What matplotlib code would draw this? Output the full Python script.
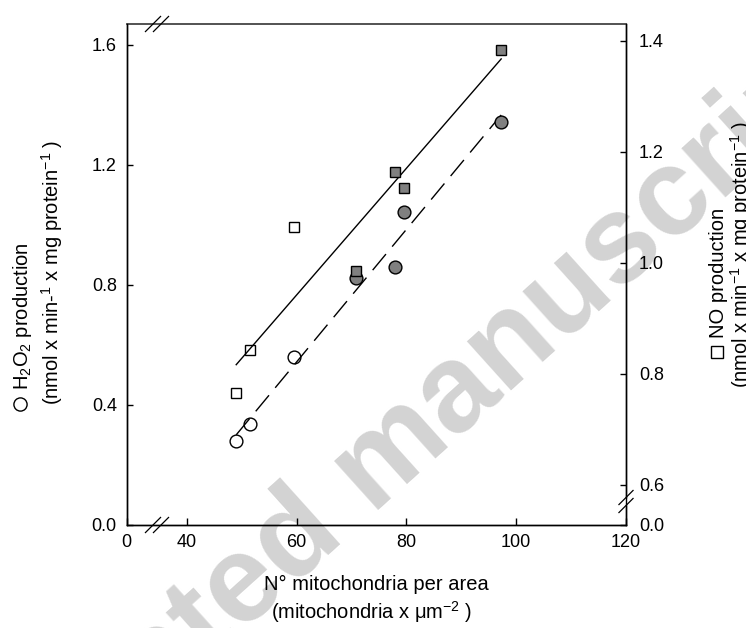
import numpy as np
import matplotlib
matplotlib.use("Agg")
import matplotlib.pyplot as plt
from matplotlib.lines import Line2D

# ---------------- data ----------------
mito_per_area = [49.0, 51.5, 59.6, 70.8, 77.9, 79.5, 97.3]
h2o2_production = [0.278, 0.336, 0.559, 0.824, 0.860, 1.044, 1.344]
no_production = [0.765, 0.843, 1.065, 0.985, 1.164, 1.134, 1.383]
is_open = [True, True, True, False, False, False, False]

x_ticks = [40, 60, 80, 100, 120]
x_tick_labels = ["40", "60", "80", "100", "120"]
left_ticks = [0.0, 0.4, 0.8, 1.2, 1.6]
left_tick_labels = ["0.0", "0.4", "0.8", "1.2", "1.6"]
right_ticks = [0.6, 0.8, 1.0, 1.2, 1.4]
right_tick_labels = ["0.6", "0.8", "1.0", "1.2", "1.4"]

# broken-axis limits (lower end of the visible scale is labelled "0")
XMIN, XMAX = 29.0, 120.0
LMIN, LMAX = 0.0, 1.67
RMIN, RMAX = 0.528, 1.430

plt.rcParams["font.family"] = ["Liberation Sans", "DejaVu Sans"]
plt.rcParams["mathtext.fontset"] = "custom"
plt.rcParams["mathtext.rm"] = "Liberation Sans"
plt.rcParams["mathtext.it"] = "Liberation Sans:italic"
plt.rcParams["mathtext.bf"] = "Liberation Sans:bold"

W, H = 746, 628
fig = plt.figure(figsize=(W / 100, H / 100), dpi=100)
L, R, T, B = 126.5, 625.7, 24.0, 524.5
ax = fig.add_axes([L / W, 1 - B / H, (R - L) / W, (B - T) / H])
ax.set_facecolor("none")
ax2 = ax.twinx()
ax2.set_facecolor("none")

x = np.array(mito_per_area)
yh = np.array(h2o2_production)
yn = np.array(no_production)
op = np.array(is_open)

# regression lines
xl = np.array([x.min(), x.max()])
ph = np.polyfit(x, yh, 1)
pn = np.polyfit(x, yn, 1)
ax.plot(xl, np.polyval(ph, xl), color="black", lw=1.0, dashes=(15, 7), zorder=2)
ax2.plot(xl, np.polyval(pn, xl), color="black", lw=1.0, zorder=2)

# markers
ax.plot(x[op], yh[op], "o", ms=9.2, mfc="none", mec="black", mew=1.0, ls="none", zorder=3)
ax.plot(x[~op], yh[~op], "o", ms=9.2, mfc="#808080", mec="black", mew=1.0, ls="none", zorder=3)
ax2.plot(x[op], yn[op], "s", ms=7.8, mfc="none", mec="black", mew=1.0, ls="none", zorder=3)
ax2.plot(x[~op], yn[~op], "s", ms=7.8, mfc="#808080", mec="black", mew=1.0, ls="none", zorder=3)

ax.set_xlim(XMIN, XMAX)
ax.set_ylim(LMIN, LMAX)
ax2.set_ylim(RMIN, RMAX)

ax.set_xticks([XMIN] + x_ticks)
ax.set_xticklabels(["0"] + x_tick_labels)
ax.set_yticks(left_ticks)
ax.set_yticklabels(left_tick_labels)
ax2.set_yticks([RMIN] + right_ticks)
ax2.set_yticklabels(["0.0"] + right_tick_labels)

ax.tick_params(axis="x", direction="in", length=5, width=1, labelsize=13, pad=7, top=False)
ax.tick_params(axis="y", direction="in", length=4, width=1, labelsize=13, pad=7, right=False)
ax2.tick_params(axis="y", direction="in", length=4, width=1, labelsize=13, pad=9.5)

for s in ["left", "bottom", "right"]:
    ax.spines[s].set_linewidth(1.0)
    ax2.spines[s].set_linewidth(1.0)
ax.spines["top"].set_linewidth(1.3)
ax.spines["top"].set_color("#444444")
ax2.spines["top"].set_visible(False)


def pxax(px, py):
    return ((px - L) / (R - L), (B - py) / (B - T))


def seg(p0, p1, **kw):
    a = pxax(*p0)
    b = pxax(*p1)
    ax.plot([a[0], b[0]], [a[1], b[1]], transform=ax.transAxes, clip_on=False,
            color=kw.get("color", "black"), lw=kw.get("lw", 0.9), zorder=kw.get("zorder", 5),
            solid_capstyle="butt")


# axis-break marks
for dx in (0, 8):
    seg((145 + dx, 533), (161 + dx, 517))
    seg((145 + dx, 32), (161 + dx, 16))
seg((R, 497.5), (R, 504.5), color="white", lw=2.5, zorder=4)
for dy in (0, 8):
    seg((618.5, 505 + dy), (633.5, 490 + dy))

# axis labels
fs = 14.5
fig.text(376 / W, 1 - 590 / H, "N° mitochondria per area", ha="center", va="baseline", fontsize=fs)
fig.text(372 / W, 1 - 619 / H, r"(mitochondria x μm$^{-2}$ )", ha="center", va="baseline", fontsize=fs)

# legend symbols in the axis titles
fig.add_artist(Line2D([20 / W], [1 - 404 / H], marker="o", ms=9.5, mfc="none", mec="black",
                      mew=1.0, transform=fig.transFigure))
fig.add_artist(Line2D([717 / W], [1 - 352 / H], marker="s", ms=9.0, mfc="none", mec="black",
                      mew=1.0, transform=fig.transFigure))

fig.text(28 / W, 1 - 390 / H, r"H$_2$O$_2$ production", rotation=90, rotation_mode="anchor",
         ha="left", va="baseline", fontsize=fs)
fig.text(59 / W, 1 - 405 / H, r"(nmol x min-$^{1}$ x mg protein$^{-1}$ )", rotation=90,
         rotation_mode="anchor", ha="left", va="baseline", fontsize=fs)

fig.text(724 / W, 1 - 338 / H, r"NO production", rotation=90, rotation_mode="anchor",
         ha="left", va="baseline", fontsize=fs)
fig.text(748 / W, 1 - 388 / H, r"(nmol x min$^{-1}$ x mg protein$^{-1}$ )", rotation=90,
         rotation_mode="anchor", ha="left", va="baseline", fontsize=fs)

# watermark
fig.text(0.508, 0.258, "Accepted manuscript", rotation=42, rotation_mode="anchor",
         ha="center", va="center", fontsize=89, fontweight="bold", color="#d3d3d3", zorder=-1)

fig.savefig("out.png", dpi=100)
